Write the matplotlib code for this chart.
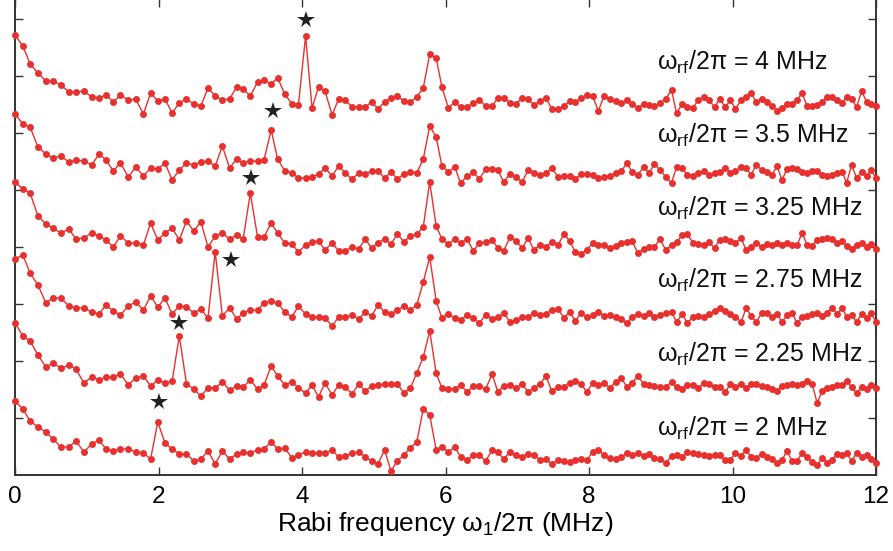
import matplotlib
matplotlib.use("Agg")
import matplotlib.pyplot as plt

plt.rcParams['font.family'] = ['Liberation Sans', 'DejaVu Sans']
plt.rcParams['mathtext.fontset'] = 'custom'
plt.rcParams['mathtext.rm'] = 'Liberation Sans'
plt.rcParams['mathtext.it'] = 'Liberation Sans:italic'
plt.rcParams['mathtext.bf'] = 'Liberation Sans:bold'

# Rabi frequency grid (MHz) -- points get denser towards high frequency
freq = [0.00, 0.11, 0.21, 0.32, 0.43, 0.53, 0.64, 0.75, 0.85, 0.96,
        1.07, 1.17, 1.27, 1.37, 1.47, 1.58, 1.68, 1.79, 1.89, 1.99,
        2.09, 2.19, 2.29, 2.39, 2.49, 2.59, 2.69, 2.79, 2.89, 2.99,
        3.09, 3.18, 3.28, 3.38, 3.47, 3.57, 3.66, 3.76, 3.86, 3.95,
        4.05, 4.14, 4.23, 4.32, 4.42, 4.51, 4.60, 4.70, 4.79, 4.88,
        4.97, 5.06, 5.15, 5.24, 5.33, 5.42, 5.51, 5.60, 5.69, 5.78,
        5.87, 5.95, 6.04, 6.13, 6.21, 6.30, 6.39, 6.47, 6.56, 6.65,
        6.73, 6.81, 6.90, 6.98, 7.07, 7.15, 7.23, 7.32, 7.40, 7.48,
        7.57, 7.65, 7.73, 7.81, 7.89, 7.97, 8.05, 8.13, 8.21, 8.29,
        8.37, 8.45, 8.53, 8.60, 8.68, 8.76, 8.84, 8.91, 8.99, 9.07,
        9.15, 9.22, 9.30, 9.37, 9.45, 9.52, 9.60, 9.67, 9.75, 9.82,
        9.90, 9.97, 10.04, 10.12, 10.19, 10.26, 10.33, 10.41, 10.48, 10.55,
        10.62, 10.69, 10.76, 10.83, 10.90, 10.97, 11.04, 11.11, 11.18, 11.25,
        11.32, 11.39, 11.46, 11.53, 11.59, 11.66, 11.73, 11.80, 11.87, 11.93, 12.00]

# Stacked spectra (arbitrary units, vertically offset)
spec_4MHz = [440, 429, 411, 402, 394, 394, 390, 383, 383, 384,
             378, 377, 380, 373, 380, 375, 376, 361, 382, 374,
             376, 362, 372, 376, 371, 369, 387, 379, 375, 376,
             388, 386, 379, 393, 395, 391, 397, 381, 371, 370,
             439, 367, 388, 384, 360, 376, 375, 368, 368, 368,
             373, 366, 373, 377, 379, 374, 373, 378, 387, 421,
             417, 388, 367, 373, 368, 368, 372, 375, 369, 369,
             377, 377, 372, 371, 377, 376, 370, 374, 377, 366,
             366, 369, 374, 373, 377, 380, 379, 364, 379, 376,
             374, 372, 375, 371, 367, 371, 370, 369, 372, 376,
             385, 362, 371, 368, 367, 375, 378, 375, 368, 376,
             368, 375, 366, 375, 378, 382, 373, 376, 373, 369,
             364, 367, 371, 371, 375, 382, 369, 369, 370, 373,
             378, 378, 375, 372, 378, 376, 368, 384, 373, 371, 369]

spec_3p5MHz = [361, 351, 348, 328, 321, 317, 319, 313, 315, 314,
               310, 321, 315, 304, 312, 298, 308, 299, 307, 306,
               312, 295, 305, 312, 310, 313, 314, 309, 329, 307,
               316, 312, 314, 314, 315, 345, 316, 304, 302, 297,
               297, 298, 301, 307, 299, 309, 302, 296, 302, 301,
               304, 304, 297, 303, 296, 301, 303, 302, 316, 349,
               338, 309, 303, 308, 292, 299, 303, 296, 306, 306,
               305, 293, 301, 298, 293, 305, 302, 300, 302, 307,
               298, 299, 299, 296, 301, 301, 300, 297, 298, 299,
               302, 304, 312, 303, 300, 308, 302, 311, 305, 298,
               292, 308, 307, 300, 299, 302, 304, 300, 302, 303,
               307, 302, 304, 308, 307, 300, 310, 305, 303, 300,
               309, 295, 306, 307, 306, 303, 302, 304, 304, 300,
               299, 300, 302, 303, 292, 310, 297, 303, 299, 305, 297]

spec_3p25MHz = [293, 286, 282, 259, 251, 247, 242, 246, 236, 237,
                242, 239, 235, 228, 239, 232, 232, 230, 252, 235,
                242, 247, 235, 254, 244, 253, 228, 239, 242, 236,
                240, 236, 282, 238, 238, 252, 242, 232, 231, 223,
                230, 233, 234, 225, 232, 224, 224, 228, 226, 236,
                227, 232, 236, 231, 241, 233, 239, 241, 248, 293,
                249, 236, 231, 236, 232, 236, 224, 232, 233, 235,
                227, 224, 238, 234, 227, 237, 225, 230, 228, 233,
                230, 241, 234, 223, 221, 225, 232, 230, 230, 227,
                229, 232, 233, 234, 222, 226, 228, 228, 236, 225,
                230, 233, 240, 241, 232, 231, 230, 233, 227, 235,
                236, 234, 232, 237, 225, 228, 232, 228, 231, 230,
                232, 230, 232, 230, 230, 242, 230, 229, 235, 236,
                237, 236, 232, 234, 229, 226, 230, 232, 228, 231, 226]

spec_2p75MHz = [216, 220, 202, 190, 172, 177, 177, 169, 167, 167,
                163, 161, 170, 164, 160, 169, 173, 165, 179, 168,
                177, 161, 169, 168, 162, 166, 157, 223, 159, 167,
                156, 162, 165, 165, 172, 174, 172, 163, 158, 169,
                161, 158, 158, 157, 149, 158, 158, 160, 156, 163,
                159, 170, 163, 161, 165, 169, 165, 170, 193, 218,
                174, 157, 161, 157, 155, 160, 157, 152, 160, 156,
                158, 162, 153, 155, 158, 158, 162, 160, 161, 165,
                166, 157, 163, 154, 162, 158, 160, 163, 159, 160,
                158, 156, 152, 158, 161, 159, 162, 158, 160, 162,
                163, 153, 161, 152, 158, 159, 158, 161, 164, 167,
                164, 161, 158, 153, 167, 159, 153, 162, 162, 158,
                161, 153, 160, 162, 152, 158, 159, 161, 162, 159,
                162, 167, 161, 167, 158, 160, 153, 161, 157, 162, 153]

spec_2p25MHz = [152, 139, 134, 120, 108, 112, 107, 110, 106, 92,
                98, 95, 98, 98, 101, 90, 97, 99, 89, 95,
                92, 94, 139, 91, 86, 79, 87, 87, 93, 85,
                89, 88, 95, 86, 90, 109, 99, 90, 93, 87,
                82, 90, 78, 92, 80, 90, 88, 81, 91, 84,
                89, 90, 91, 91, 91, 82, 87, 102, 118, 144,
                102, 87, 86, 86, 90, 83, 89, 89, 86, 101,
                83, 89, 90, 87, 91, 83, 87, 91, 99, 84,
                88, 88, 92, 94, 91, 83, 92, 90, 92, 87,
                93, 97, 88, 92, 99, 91, 90, 89, 88, 88,
                93, 88, 86, 90, 90, 87, 92, 91, 88, 88,
                83, 91, 88, 91, 87, 91, 91, 89, 88, 86,
                84, 89, 90, 91, 90, 91, 94, 91, 72, 84,
                87, 88, 90, 90, 94, 88, 82, 88, 86, 90, 87]

spec_2MHz = [74, 66, 54, 48, 43, 36, 28, 28, 34, 23,
             31, 35, 26, 24, 26, 26, 23, 22, 16, 53,
             32, 26, 21, 21, 14, 16, 24, 11, 24, 16,
             21, 23, 22, 25, 26, 33, 26, 27, 17, 20,
             23, 22, 22, 22, 25, 18, 19, 22, 23, 18,
             14, 11, 25, 4, 14, 20, 27, 33, 66, 60,
             25, 28, 23, 28, 18, 15, 20, 20, 14, 25,
             23, 16, 23, 20, 18, 21, 20, 15, 16, 11,
             15, 14, 13, 15, 16, 15, 23, 25, 20, 17,
             16, 18, 22, 20, 22, 19, 21, 17, 16, 12,
             19, 20, 18, 23, 22, 21, 20, 19, 20, 20,
             15, 15, 22, 19, 25, 18, 17, 21, 18, 16,
             12, 15, 24, 14, 14, 22, 18, 13, 10, 17,
             12, 15, 21, 20, 22, 14, 22, 18, 20, 16, 12]

spectra = [spec_4MHz, spec_3p5MHz, spec_3p25MHz, spec_2p75MHz, spec_2p25MHz, spec_2MHz]
labels = ['4', '3.5', '3.25', '2.75', '2.25', '2']
label_y = [405, 332, 259, 187, 113, 39]

# star markers above the rf-induced peaks
star_x = [4.06, 3.59, 3.29, 3.01, 2.29, 2.00]
star_y = [455, 364, 297, 215, 152, 73]

RED = '#e8312f'

fig = plt.figure(figsize=(8.93, 5.51), dpi=100)
ax = fig.add_axes([15 / 893, 76 / 551, 861 / 893, 476 / 551])

for s in spectra:
    ax.plot(freq, s, '-o', color=RED, lw=1.0, ms=5.0, mew=0, clip_on=False, zorder=3)

ax.plot(star_x, star_y, '*', color='#222222', ms=13, mew=0, zorder=4, clip_on=False)

for lab, ly in zip(labels, label_y):
    ax.text(8.95, ly, 'ω$_{\\mathrm{rf}}$/2π = ' + lab + ' MHz', fontsize=18,
            ha='left', va='baseline', color='#111111')

ax.set_xlim(0, 12)
ax.set_ylim(0, 476)
ax.set_xticks([0, 2, 4, 6, 8, 10, 12])
ax.set_yticks([57 * k for k in range(1, 9)])
ax.set_yticklabels([])
ax.tick_params(direction='in', top=True, right=True, length=6, width=1.0,
               labelsize=17.5, pad=8, color='#333333')
ax.tick_params(axis='y', labelleft=False)
for sp in ax.spines.values():
    sp.set_linewidth(1.4)
    sp.set_color('#333333')
ax.set_xlabel('Rabi frequency ω$_1$/2π (MHz)', fontsize=19, labelpad=1)

fig.savefig('out.png', dpi=100)
